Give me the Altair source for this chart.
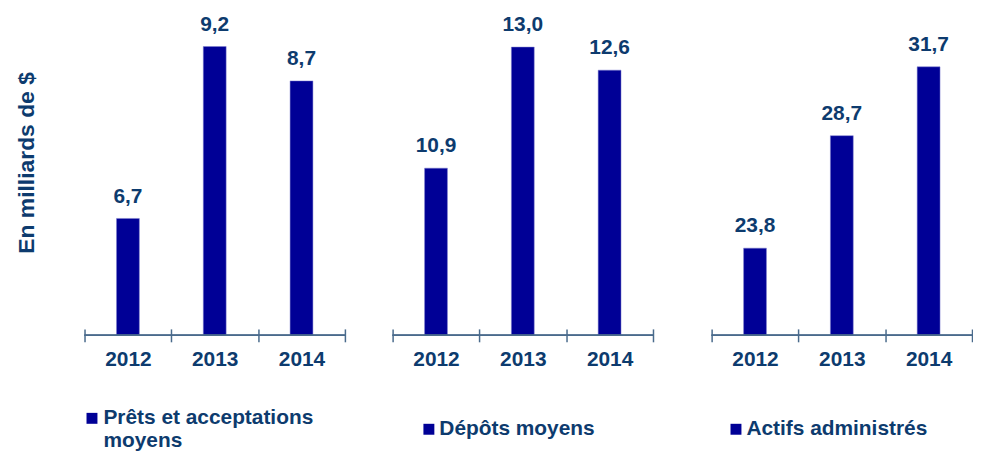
import altair as alt
import pandas as pd

years = ["2012", "2013", "2014"]
series = ["Prêts et acceptations moyens", "Dépôts moyens", "Actifs administrés"]
prets = [6.7, 9.2, 8.7]
depots = [10.9, 13.0, 12.6]
actifs = [23.8, 28.7, 31.7]
y_title = "En milliards de $"

BAR = "#000096"
NAVY = "#0D3B6E"
AXIS = "#4A6B8C"
FONT = "Liberation Sans"
H = 328
BANDW = 262
FS = 21


def fr(v):
    return f"{v:.1f}".replace(".", ",")


def panel(name, vals, ymin, ymax, width, first, lx, ly, loff):
    df = pd.DataFrame({"year": years, "value": vals, "series": [name] * 3,
                       "label": [fr(v) for v in vals]})
    x = alt.X("year:N", sort=years,
              scale=alt.Scale(paddingInner=0, paddingOuter=0, range=[0, BANDW]),
              axis=alt.Axis(title=None, domain=False, tickBand="extent", tickSize=13,
                            offset=-6.5, labelPadding=7, labelFontSize=FS,
                            labelFontWeight="bold", labelColor=NAVY, labelFont=FONT,
                            tickColor=AXIS, tickWidth=1.5, labelAngle=0, grid=False))
    if first:
        yaxis = alt.Axis(title=y_title, labels=False, ticks=False, domain=False, grid=False,
                         titleFontSize=23, titleFont=FONT, titleFontWeight="bold",
                         titleColor=NAVY, titlePadding=46, titleY=154)
    else:
        yaxis = None
    y = alt.Y("value:Q", scale=alt.Scale(domain=[ymin, ymax], nice=False, zero=False),
              axis=yaxis)
    base = alt.Chart(df)
    bars = base.mark_bar(size=23, stroke="#8080d0", strokeWidth=0.5).encode(
        x=x, y=y, y2=alt.datum(ymin),
        color=alt.Color("series:N", scale=alt.Scale(range=[BAR]),
                        legend=alt.Legend(orient="none", legendX=lx, legendY=ly, title=None,
                                          symbolType="square", symbolSize=121,
                                          symbolStrokeWidth=0, labelFont=FONT,
                                          labelFontSize=FS, labelFontWeight="bold",
                                          labelColor=NAVY, labelOffset=loff, padding=0,
                                          labelLimit=500,
                                          labelExpr="datum.label == 'Prêts et acceptations moyens' ? ['Prêts et acceptations', 'moyens'] : datum.label")))
    text = base.mark_text(dy=-16, baseline="alphabetic", fontSize=FS, fontWeight="bold",
                          font=FONT, color=NAVY).encode(x=x, y=y, text="label:N")
    rule = base.mark_rule(color=AXIS, strokeWidth=1.5).encode(
        x=alt.value(0), x2=alt.value(BANDW), y=alt.value(H))
    return alt.layer(bars, text, rule).properties(width=width, height=H)


p1 = panel(series[0], prets, 5, 5 + 328.5 / 69.3, BANDW, True, -3, 401, 1)
p2 = panel(series[1], depots, 8, 8 + 328.5 / 58.1, BANDW + 12, False, 26, 412, 0)
p3 = panel(series[2], actifs, 20, 20 + 328.5 / 23.13, BANDW, False, 14, 412, 0)

chart = alt.hconcat(p1, p2, p3, spacing=46).resolve_scale(
    color="independent", y="independent", x="independent"
).resolve_legend(color="independent").properties(
    padding={"left": 8, "top": 0, "right": 0, "bottom": 0}
).configure_view(stroke=None)

chart.save("out.html", embed_options={"renderer": "svg", "actions": False})
